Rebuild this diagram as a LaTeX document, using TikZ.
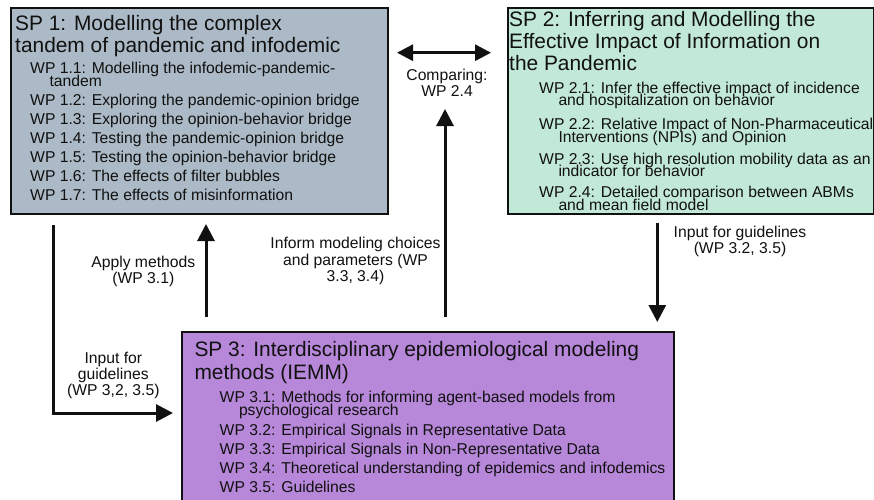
\documentclass[tikz,border=0pt]{standalone}
\usepackage{fontspec}
\setmainfont{Liberation Sans}
\usetikzlibrary{arrows.meta}
\definecolor{sponefill}{HTML}{ABBAC6}
\definecolor{sptwofill}{HTML}{C2E8D8}
\definecolor{spthreefill}{HTML}{B787D9}
\definecolor{ink}{HTML}{111111}
\newcommand\tightlines{\lineskiplimit=-1000pt\relax}
\newcommand\twoline[2]{\vtop{\hbox{#1}\hbox{\hspace*{19.3pt}#2}}}
\newcommand\clines[1]{\vtop{\halign{\hfil##\hfil\cr#1\crcr}}}
\newcommand\llines[1]{\vtop{\halign{##\hfil\cr#1\crcr}}}
\begin{document}
\begin{tikzpicture}[x=1pt,y=-1pt,
  spbox/.style={draw=ink,line width=2.2pt,rectangle,inner sep=0pt,anchor=north west},
  ttl/.style={anchor=base west,inner sep=0pt,text=ink,font=\fontsize{20.9}{22}\selectfont\tightlines},
  wp/.style={anchor=base west,inner sep=0pt,text=ink,font=\fontsize{15.7}{13.3}\selectfont\tightlines},
  wpb/.style={wp,font=\fontsize{15.7}{12.8}\selectfont\tightlines},
  lbl/.style={anchor=base,inner sep=0pt,text=ink,font=\fontsize{15.7}{16.5}\selectfont\tightlines},
  arr/.style={draw=ink,line width=3pt,-{Triangle[length=17pt,width=17pt]}},
  dblarr/.style={draw=ink,line width=3pt,{Triangle[length=16pt,width=16pt]}-{Triangle[length=16pt,width=16pt]}}
]
\useasboundingbox (0,0) rectangle (874,499);
\fill[white] (0,0) rectangle (874,499);
\clip (0,0) rectangle (874,499);

% boxes
\node[spbox,fill=sponefill,minimum width=377pt,minimum height=206pt] (sp1) at (10,7) {};
\node[spbox,fill=sptwofill,minimum width=366pt,minimum height=205.5pt] (sp2) at (507,7) {};
\node[spbox,fill=spthreefill,minimum width=492pt,minimum height=185pt] (sp3) at (181,330.5) {};

% SP1 text
\node[ttl] (t1) at (15,30) {\llines{SP 1: Modelling the complex\cr tandem of pandemic and infodemic}};
\node[wp] (w11) at (30,73.3) {\twoline{WP 1.1: Modelling the infodemic-pandemic-}{tandem}};
\node[wp] (w12) at (30,105.7) {WP 1.2: Exploring the pandemic-opinion bridge};
\node[wp] (w13) at (30,124.7) {WP 1.3: Exploring the opinion-behavior bridge};
\node[wp] (w14) at (30,143.7) {WP 1.4: Testing the pandemic-opinion bridge};
\node[wp] (w15) at (30,162.7) {WP 1.5: Testing the opinion-behavior bridge};
\node[wp] (w16) at (30,181.7) {WP 1.6: The effects of filter bubbles};
\node[wp] (w17) at (30,200.7) {WP 1.7: The effects of misinformation};

% SP2 text
\node[ttl,font=\fontsize{20.9}{21.7}\selectfont\tightlines] (t2) at (509,26.7) {\llines{SP 2: Inferring and Modelling the\cr Effective Impact of Information on\cr the Pandemic}};
\node[wpb] (w21) at (539,93) {\twoline{WP 2.1: Infer the effective impact of incidence}{and hospitalization on behavior}};
\node[wpb] (w22) at (539,129.5) {\twoline{WP 2.2: Relative Impact of Non-Pharmaceutical}{Interventions (NPIs) and Opinion}};
\node[wpb] (w23) at (539,164) {\twoline{WP 2.3: Use high resolution mobility data as an}{indicator for behavior}};
\node[wpb] (w24) at (539,197.5) {\twoline{WP 2.4: Detailed comparison between ABMs}{and mean field model}};

% SP3 text
\node[ttl,font=\fontsize{20.9}{22.5}\selectfont\tightlines] (t3) at (194.3,356.5) {\llines{SP 3: Interdisciplinary epidemiological modeling\cr methods (IEMM)}};
\node[wp] (w31) at (219.5,402) {\twoline{WP 3.1: Methods for informing agent-based models from}{psychological research}};
\node[wp] (w32) at (219.5,435) {WP 3.2: Empirical Signals in Representative Data};
\node[wp] (w33) at (219.5,454.3) {WP 3.3: Empirical Signals in Non-Representative Data};
\node[wp] (w34) at (219.5,473.6) {WP 3.4: Theoretical understanding of epidemics and infodemics};
\node[wp] (w35) at (219.5,492.9) {WP 3.5: Guidelines};

% labels
\node[lbl,font=\fontsize{15.7}{16}\selectfont\tightlines] (lcmp) at (447,80) {\clines{Comparing:\cr WP 2.4}};
\node[lbl] (linf) at (355.5,248.5) {\clines{Inform modeling choices\cr and parameters (WP\cr 3.3, 3.4)}};
\node[lbl] (lapp) at (143.3,267) {\clines{Apply methods\cr (WP 3.1)}};
\node[lbl,font=\fontsize{15.7}{16.3}\selectfont\tightlines] (linl) at (113.3,363) {\clines{Input for\cr guidelines\cr (WP 3,2, 3.5)}};
\node[lbl] (linr) at (740,237) {\clines{Input for guidelines\cr (WP 3.2, 3.5)}};

% connector end points
\coordinate (cmpL) at (397,52.7);
\coordinate (cmpR) at (491,52.7);
\coordinate (appS) at (206,317);
\coordinate (appE) at (206,224);
\coordinate (infS) at (445,317);
\coordinate (infE) at (445,109);
\coordinate (rgtS) at (657.3,222.5);
\coordinate (rgtE) at (657.3,322);
\coordinate (elbS) at (53.3,225);
\coordinate (elbE) at (173,413);

% connectors
\draw[dblarr] (cmpL) -- (cmpR);
\draw[arr] (appS) -- (appE);
\draw[arr] (infS) -- (infE);
\draw[arr] (rgtS) -- (rgtE);
\draw[arr] (elbS) |- (elbE);
\end{tikzpicture}
\end{document}
